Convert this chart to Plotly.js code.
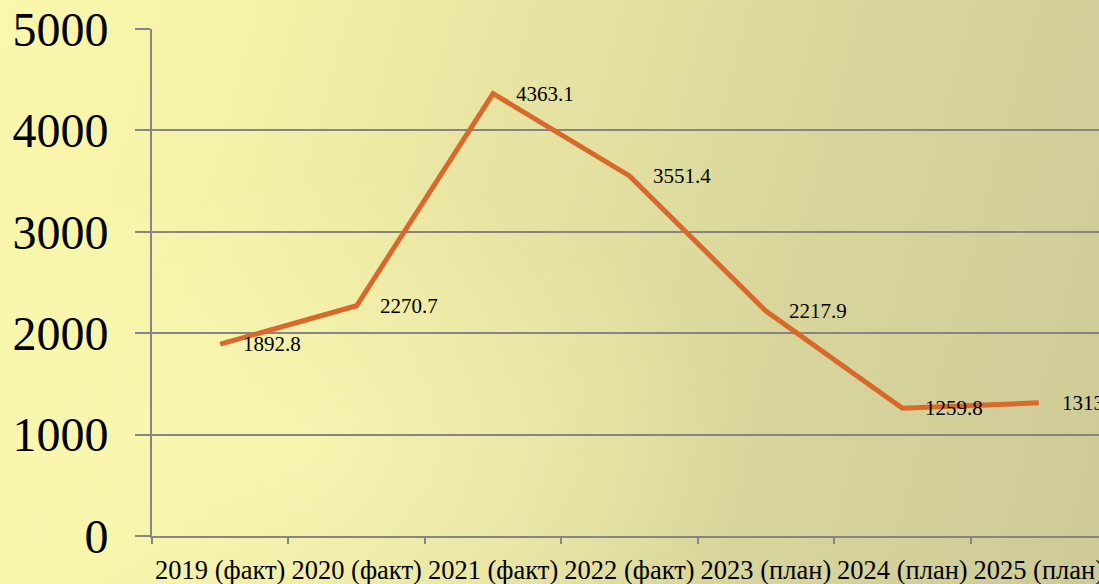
<!DOCTYPE html>
<html>
<head>
<meta charset="utf-8">
<script src="https://cdn.plot.ly/plotly-3.0.1.min.js"></script>
<style>
html,body{margin:0;padding:0;overflow:hidden;width:1099px;height:584px;}
body{
  background:
    radial-gradient(ellipse 650px 400px at 300px 450px, rgba(255,253,185,0.55), rgba(255,253,185,0) 70%),
    linear-gradient(105deg, #fbf8ad 0%, #f5f2a9 20%, #e6e3a2 45%, #d8d59c 70%, #cdca97 100%);
}
#chart{width:1120px;height:584px;}
</style>
</head>
<body>
<div id="chart"></div>
<script>
const categories = ["2019 (факт)","2020 (факт)","2021 (факт)","2022 (факт)","2023 (план)","2024 (план)","2025 (план)"];
const values = [1892.8, 2270.7, 4363.1, 3551.4, 2217.9, 1259.8, 1313.0];
const valueLabels = ["1892.8","2270.7","4363.1","3551.4","2217.9","1259.8","1313.0"];
const yTicks = [0,1000,2000,3000,4000,5000];

const serif = "Liberation Serif";

const trace = {
  x: categories,
  y: values,
  type: "scatter",
  mode: "lines",
  line: {color: "#d9682b", width: 5},
  hoverinfo: "skip"
};

const annotations = categories.map((c,i)=>({
  x: c, y: values[i], xref: "x", yref: "y",
  text: valueLabels[i], showarrow: false,
  xanchor: "left", yanchor: "middle",
  xshift: 21, yshift: 0,
  font: {family: serif, size: 21, color: "#000"}
}));

const layout = {
  width: 1120, height: 584,
  margin: {l: 152, r: 13, t: 29, b: 48},
  paper_bgcolor: "rgba(0,0,0,0)",
  plot_bgcolor: "rgba(0,0,0,0)",
  showlegend: false,
  xaxis: {
    type: "category",
    range: [-0.5, 6.5],
    tickson: "boundaries",
    tickangle: 0,
    ticks: "outside", ticklen: 6, tickwidth: 2, tickcolor: "#858585",
    showgrid: false,
    showline: true, linecolor: "#858585", linewidth: 2,
    ticklabelstandoff: 9,
    tickfont: {family: serif, size: 26.5, color: "#000"},
    fixedrange: true
  },
  yaxis: {
    range: [0, 5000],
    tickvals: yTicks,
    ticktext: yTicks.map(String),
    ticks: "outside", ticklen: 15, tickwidth: 2, tickcolor: "#858585",
    showgrid: true, gridcolor: "#858585", gridwidth: 2,
    zeroline: false,
    showline: true, linecolor: "#858585", linewidth: 2,
    ticklabelstandoff: 17,
    tickfont: {family: serif, size: 48, color: "#000"},
    fixedrange: true
  },
  annotations: annotations
};

Plotly.newPlot("chart", [trace], layout, {displayModeBar: false, staticPlot: true});
</script>
</body>
</html>
